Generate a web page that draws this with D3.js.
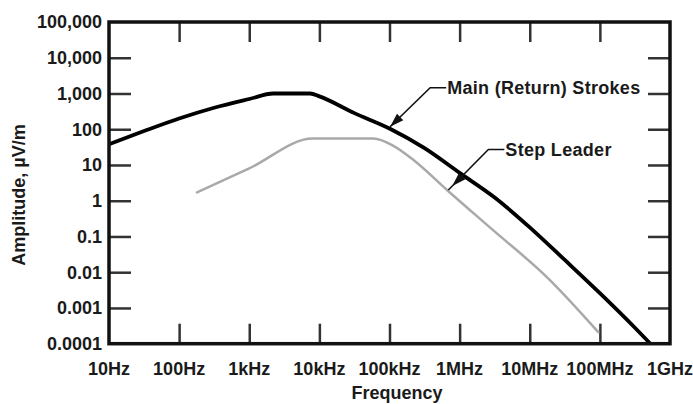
<!DOCTYPE html>
<html>
<head>
<meta charset="utf-8">
<script src="https://cdn.jsdelivr.net/npm/d3@7"></script>
<style>
  html, body { margin: 0; padding: 0; background: #fff; }
  svg { display: block; }
  text { font-family: "Liberation Sans", Arial, Helvetica, sans-serif; font-weight: bold; fill: #1a1a1a; }
</style>
</head>
<body>
<svg id="chart" width="693" height="404"></svg>
<script>
// ---- Data ----
const xTickValues = [10, 100, 1e3, 1e4, 1e5, 1e6, 1e7, 1e8, 1e9];
const xTickLabels = ["10Hz", "100Hz", "1kHz", "10kHz", "100kHz", "1MHz", "10MHz", "100MHz", "1GHz"];
const yTickValues = [1e5, 1e4, 1e3, 100, 10, 1, 0.1, 0.01, 0.001, 0.0001];
const yTickLabels = ["100,000", "10,000", "1,000", "100", "10", "1", "0.1", "0.01", "0.001", "0.0001"];

// Main (Return) Strokes
const mainFreq = [10, 31.6, 100, 316, 1000, 2200, 7400, 10000, 31600, 1e5, 3.16e5, 1e6, 3.16e6, 1e7, 3.16e7, 1e8, 3.16e8, 5.25e8];
const mainAmp  = [38, 89, 200, 400, 700, 1000, 1000, 830, 282, 105, 29.5, 6.0, 1.23, 0.18, 0.022, 0.0026, 0.00028, 0.0001];

// Step Leader
const leaderFreq = [180, 1000, 8000, 59000, 112000, 220000, 660000, 3.0e6, 1.74e7, 9.5e7];
const leaderAmp  = [1.7, 8, 55, 55, 35, 13.8, 2.0, 0.15, 0.0074, 0.00021];

// Annotations (data-space anchor points)
const annotLabels = ["Main (Return) Strokes", "Step Leader"];
const annotTip    = [[1.02e5, 117], [6.9e5, 2.0]];
const annotElbow  = [[3.8e5, 1450], [2.57e6, 27]];
const annotHeadAt = [1.0, 0.9];

// ---- Layout ----
const svg = d3.select("#chart");
const mLeft = 109, mRight = 670, mTop = 22, mBottom = 343.7;

const x = d3.scaleLog().domain([10, 1e9]).range([mLeft, mRight]);
const y = d3.scaleLog().domain([1e-4, 1e5]).range([mBottom, mTop]);

const g = svg.append("g");

function styleAxis(sel) {
  sel.select(".domain").remove();
  sel.selectAll(".tick line").attr("stroke", "#333").attr("stroke-width", 2.5);
}

const innerX = xTickValues.slice(1, -1);
const innerY = yTickValues.slice(1, -1);

g.append("g").attr("transform", `translate(0,${mBottom})`)
  .call(d3.axisBottom(x).tickValues(innerX).tickSize(-20).tickFormat(""))
  .call(styleAxis);
g.append("g").attr("transform", `translate(0,${mTop})`)
  .call(d3.axisTop(x).tickValues(innerX).tickSize(-20).tickFormat(""))
  .call(styleAxis);
g.append("g").attr("transform", `translate(${mLeft},0)`)
  .call(d3.axisLeft(y).tickValues(innerY).tickSize(-22).tickFormat(""))
  .call(styleAxis);
g.append("g").attr("transform", `translate(${mRight},0)`)
  .call(d3.axisRight(y).tickValues(innerY).tickSize(-22).tickFormat(""))
  .call(styleAxis);

// Tick labels
g.append("g").selectAll("text").data(xTickValues).join("text")
  .attr("x", d => x(d)).attr("y", 375)
  .attr("text-anchor", "middle").attr("font-size", 18)
  .text((d, i) => xTickLabels[i]);

g.append("g").selectAll("text").data(yTickValues).join("text")
  .attr("x", mLeft - 7).attr("y", d => y(d))
  .attr("dy", "0.36em")
  .attr("text-anchor", "end").attr("font-size", 18)
  .text((d, i) => yTickLabels[i]);

// Axis titles
g.append("text").attr("x", 397).attr("y", 399)
  .attr("text-anchor", "middle").attr("font-size", 18)
  .text("Frequency");
g.append("text").attr("transform", "translate(25,195) rotate(-90)")
  .attr("text-anchor", "middle").attr("font-size", 18)
  .text("Amplitude, \u00B5V/m");

// Lines
const line = d3.line().x(d => x(d[0])).y(d => y(d[1])).curve(d3.curveMonotoneX);
const leaderData = leaderFreq.map((f, i) => [f, leaderAmp[i]]);
const mainData = mainFreq.map((f, i) => [f, mainAmp[i]]);

g.append("path").datum(leaderData).attr("d", line)
  .attr("fill", "none").attr("stroke", "#a9a9a9").attr("stroke-width", 2.5)
  .attr("stroke-linejoin", "round").attr("stroke-linecap", "round");
g.append("path").datum(mainData).attr("d", line)
  .attr("fill", "none").attr("stroke", "#000").attr("stroke-width", 3.8)
  .attr("stroke-linejoin", "round");

// Frame
g.append("rect").attr("x", mLeft).attr("y", mTop)
  .attr("width", mRight - mLeft).attr("height", mBottom - mTop)
  .attr("fill", "none").attr("stroke", "#111").attr("stroke-width", 3.5);

// Annotations
annotLabels.forEach((label, i) => {
  const tx = x(annotTip[i][0]), ty = y(annotTip[i][1]);
  const ex = x(annotElbow[i][0]), ey = y(annotElbow[i][1]);
  const ag = g.append("g");
  ag.append("path")
    .attr("d", `M${ex + 16},${ey} L${ex},${ey} L${tx},${ty}`)
    .attr("fill", "none").attr("stroke", "#111").attr("stroke-width", 1.6);
  const t = annotHeadAt[i];
  const hx = ex + t * (tx - ex), hy = ey + t * (ty - ey);
  const len = Math.hypot(tx - ex, ty - ey);
  const ux = (tx - ex) / len, uy = (ty - ey) / len;
  const L = 14, W = 4.5;
  const bx = hx - ux * L, by = hy - uy * L;
  ag.append("path")
    .attr("d", `M${hx},${hy} L${bx - uy * W},${by + ux * W} L${bx + uy * W},${by - ux * W} Z`)
    .attr("fill", "#111");
  ag.append("text").attr("x", ex + 17).attr("y", ey + 6.5)
    .attr("font-size", 18).attr("letter-spacing", 0.3).text(label);
});
</script>
</body>
</html>
